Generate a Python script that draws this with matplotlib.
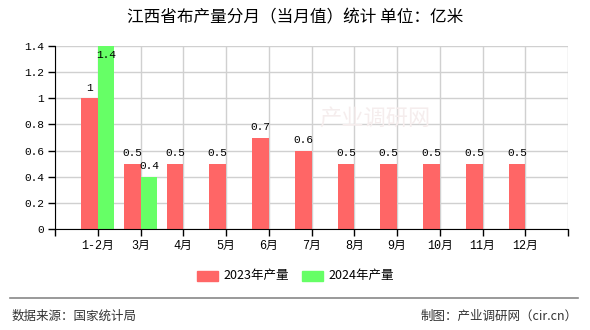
import matplotlib.pyplot as plt
from matplotlib.patches import Rectangle

plt.rcParams['font.family'] = ['Noto Sans CJK SC', 'DejaVu Sans']

months = ["1-2月", "3月", "4月", "5月", "6月", "7月", "8月", "9月", "10月", "11月", "12月"]
output_2023 = [1, 0.5, 0.5, 0.5, 0.7, 0.6, 0.5, 0.5, 0.5, 0.5, 0.5]
output_2024 = [1.4, 0.4]
series_names = ["2023年产量", "2024年产量"]
y_ticks = [0, 0.2, 0.4, 0.6, 0.8, 1, 1.2, 1.4]

red = "#ff6666"
green = "#66ff66"
num_font = ["Liberation Mono", "DejaVu Sans Mono"]
tick_font = ["Liberation Mono", "Noto Sans CJK SC"]

fig = plt.figure(figsize=(5.9, 3.3), dpi=100)
ax = fig.add_axes([55 / 590, 1 - 229 / 330, 513 / 590, 183 / 330])

w = 0.39
x23 = list(range(len(output_2023)))
x24 = list(range(len(output_2024)))
ax.bar([x - w / 2 for x in x23], output_2023, width=w, color=red, zorder=2)
ax.bar([x + w / 2 for x in x24], output_2024, width=w, color=green, zorder=2)

for x, v in zip(x23, output_2023):
    ax.text(x - w / 2, v + 0.04, f"{v:g}", ha="center", va="bottom",
            fontsize=8, family=num_font, zorder=3)
for x, v in zip(x24, output_2024):
    if v >= 1.4:
        # no room above the top of the axis, so the label sits inside the bar
        ax.text(x + w / 2, v - 0.03, f"{v:g}", ha="center", va="top",
                fontsize=8, family=num_font, zorder=3)
    else:
        ax.text(x + w / 2, v + 0.04, f"{v:g}", ha="center", va="bottom",
                fontsize=8, family=num_font, zorder=3)

ax.set_xlim(-1, len(months))
ax.set_ylim(0, 1.4)
ax.set_xticks(range(-1, len(months) + 1))
ax.set_xticklabels([""] + months + [""], fontsize=8.5, family=tick_font)
ax.set_yticks(y_ticks)
ax.set_yticklabels([f"{t:g}" for t in y_ticks], fontsize=8, family=num_font)
ax.tick_params(axis="both", length=5, width=1, color="black", pad=3)
ax.grid(True, color="#d0d0d0", linewidth=1, zorder=0)
ax.set_axisbelow(True)
for side in ["top", "right"]:
    ax.spines[side].set_visible(False)
ax.spines["left"].set_color("black")
ax.spines["bottom"].set_color("black")

# faint watermark
fig.text(375 / 590, 1 - 118 / 330, "产业调研网", ha="center", va="center",
         fontsize=16, color="#f5eded", zorder=0)

fig.text(0.5, 1 - 18 / 330, "江西省布产量分月（当月值）统计 单位：亿米",
         ha="center", va="center", fontsize=12)

# legend
ly = 1 - 276 / 330
for (x0, col), name in zip([(197, red), (302, green)], series_names):
    fig.patches.append(Rectangle((x0 / 590, ly - 5 / 330), 21 / 590, 10 / 330,
                                 transform=fig.transFigure, color=col))
    fig.text((x0 + 26) / 590, ly, name, ha="left", va="center", fontsize=9)

fig.add_artist(plt.Line2D([10 / 590, 578 / 590], [1 - 298 / 330] * 2,
                          color="#888888", linewidth=1.2))
fig.text(12 / 590, 1 - 316 / 330, "数据来源：国家统计局", ha="left",
         va="center", fontsize=9, color="#333333")
fig.text(578 / 590, 1 - 316 / 330, "制图：产业调研网（cir.cn）", ha="right",
         va="center", fontsize=9, color="#333333")

fig.savefig("out.png", dpi=100)
